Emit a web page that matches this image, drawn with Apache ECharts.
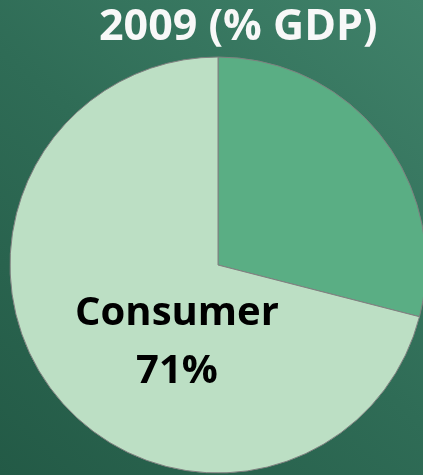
<!DOCTYPE html>
<html>
<head>
<meta charset="utf-8">
<style>
html,body{margin:0;padding:0;width:423px;height:475px;overflow:hidden;}
#chart{width:423px;height:475px;}
</style>
<script src="https://cdn.jsdelivr.net/npm/echarts@6/dist/echarts.min.js"></script>
</head>
<body>
<div id="chart"></div>
<script>
const titleText = '2009 (% GDP)';
const categories = ['Investment & Government', 'Consumer'];
const values = [29, 71];
const sliceColors = ['#5aae84', '#bcdfc4'];

const chart = echarts.init(document.getElementById('chart'));
chart.setOption({
  backgroundColor: {
    type: 'linear', x: 1, y: 0, x2: 0, y2: 1,
    colorStops: [
      {offset: 0, color: '#40826a'},
      {offset: 0.5, color: '#2f6c56'},
      {offset: 1, color: '#235a46'}
    ]
  },
  title: {
    text: titleText,
    left: 94,
    top: 1,
    textStyle: {
      color: '#f8f8f8',
      fontFamily: 'Open Sans',
      fontWeight: 'bold',
      fontSize: 43
    }
  },
  series: [{
    type: 'pie',
    center: [218, 265],
    radius: [0, 208],
    startAngle: 90,
    clockwise: true,
    animation: false,
    silent: true,
    itemStyle: {borderColor: '#808080', borderWidth: 1},
    labelLine: {show: false},
    data: categories.map((c, i) => ({
      name: c,
      value: values[i],
      itemStyle: {color: sliceColors[i]},
      label: i === 1 ? {
        show: true,
        position: 'center',
        offset: [-41, 78],
        formatter: '{b}\n{d}%',
        color: '#000',
        fontFamily: 'Open Sans',
        fontWeight: 'bold',
        fontSize: 40,
        lineHeight: 58
      } : {show: false}
    }))
  }]
});
</script>
</body>
</html>
